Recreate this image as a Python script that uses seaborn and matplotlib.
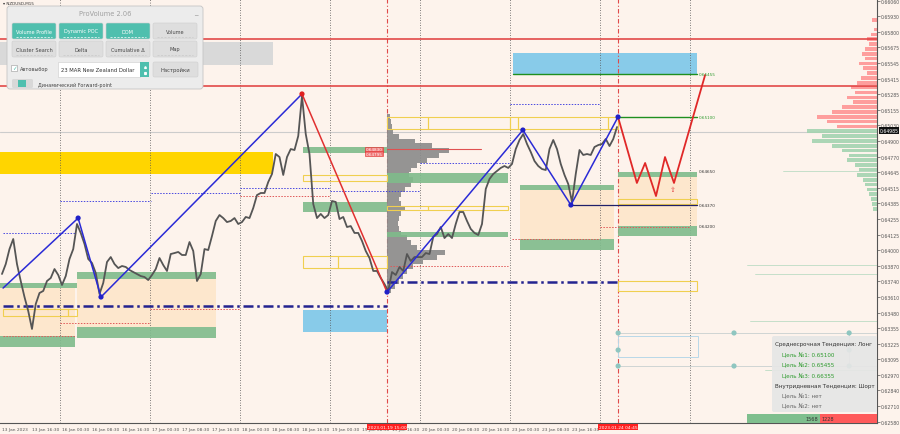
import numpy as np
import seaborn as sns
import matplotlib.pyplot as plt
import matplotlib.transforms as mtransforms
from matplotlib.patches import Rectangle, FancyBboxPatch

# x axis = trading hours counted from 13 Jan 08:30 (M15 chart, 8h per label)
closes = [0.63801, 0.63883, 0.64007, 0.64090, 0.63883, 0.63743, 0.63611, 0.63495, 0.63347, 0.63553,
          0.63644, 0.63661, 0.63743, 0.63768, 0.63842, 0.63793, 0.63710, 0.63784, 0.63925, 0.64007,
          0.64214, 0.64140, 0.64049, 0.63925, 0.63892, 0.63809, 0.63636, 0.63727, 0.63900, 0.63941,
          0.63883, 0.63850, 0.63867, 0.63859, 0.63834, 0.63817, 0.63801, 0.63784, 0.63776, 0.63751,
          0.63793, 0.63842, 0.63933, 0.63875, 0.63826, 0.63966, 0.63974, 0.63983, 0.63958, 0.63958,
          0.64065, 0.63991, 0.63743, 0.63801, 0.64007, 0.63999, 0.64115, 0.64239, 0.64288, 0.64263,
          0.64230, 0.64239, 0.64263, 0.64214, 0.64230, 0.64272, 0.64263, 0.64346, 0.64453, 0.64470,
          0.64470, 0.64561, 0.64627, 0.64792, 0.64767, 0.64619, 0.64767, 0.64833, 0.64825, 0.64941,
          0.65271, 0.64957, 0.64792, 0.64379, 0.64263, 0.64297, 0.64263, 0.64288, 0.64404, 0.64396,
          0.64255, 0.64272, 0.64189, 0.64197, 0.64140, 0.64140, 0.64074, 0.63991, 0.63933, 0.63826,
          0.63826, 0.63768, 0.63718, 0.63661, 0.63817, 0.63793, 0.63859, 0.63826, 0.63966, 0.63908,
          0.63941, 0.63941, 0.63941, 0.63974, 0.63966, 0.64107, 0.64131, 0.64189, 0.64098, 0.64131,
          0.64098, 0.64214, 0.64313, 0.64313, 0.64239, 0.64173, 0.64140, 0.64123, 0.64214, 0.64503,
          0.64586, 0.64627, 0.64652, 0.64677, 0.64693, 0.64677, 0.64710, 0.64833, 0.64908, 0.64957,
          0.64875, 0.64809, 0.64734, 0.64693, 0.64668, 0.64660, 0.64833, 0.64908, 0.64833, 0.64710,
          0.64619, 0.64544, 0.64396, 0.64627, 0.64825, 0.64784, 0.64792, 0.64784, 0.64850, 0.64866,
          0.64875, 0.64916, 0.64858, 0.64916, 0.65015]
hours = np.arange(len(closes))

xtick_hours = list(range(0, 160, 8))
xtick_labels = ["13 Jan 2023", "13 Jan 16:30", "16 Jan 00:30", "16 Jan 08:30", "16 Jan 16:30",
                "17 Jan 00:30", "17 Jan 08:30", "17 Jan 16:30", "18 Jan 00:30", "18 Jan 08:30",
                "18 Jan 16:30", "19 Jan 00:30", "19 Jan 08:30", "19 Jan 16:30", "20 Jan 00:30",
                "20 Jan 08:30", "20 Jan 16:30", "23 Jan 00:30", "23 Jan 08:30", "23 Jan 16:30"]
ytick_values = [0.66060, 0.65930, 0.65800, 0.65675, 0.65545, 0.65415, 0.65285, 0.65155, 0.65030,
                0.64900, 0.64770, 0.64645, 0.64515, 0.64385, 0.64255, 0.64125, 0.64000, 0.63870,
                0.63740, 0.63610, 0.63480, 0.63355, 0.63225, 0.63095, 0.62970, 0.62840, 0.62710,
                0.62580]
separator_hours = [15.5, 39.5, 63.5, 87.5, 111.5, 135.5, 159.5, 183.5]
marker_hours = [102.67, 164.27]
marker_labels = ["2023.01.19 15:00", "2023.01.24 04:45"]

# zigzag
zz1_h = [0.3, 20.3, 26.4, 80.0]
zz1_p = [0.63685, 0.64263, 0.63611, 0.65288]
zz_down_h = [80.0, 102.67]
zz_down_p = [0.65288, 0.63652]
zz2_h = [102.67, 138.9, 151.7, 164.27]
zz2_p = [0.63652, 0.64990, 0.64371, 0.65098]
proj_h = [164.27, 169.3, 171.5, 174.4, 176.8, 179.2, 187.5]
proj_p = [0.65098, 0.64553, 0.64718, 0.64445, 0.64767, 0.64553, 0.65445]
pivot_h = [20.3, 26.4, 102.67, 138.9, 151.7, 164.27]
pivot_p = [0.64263, 0.63611, 0.63652, 0.64990, 0.64371, 0.65098]

# zones: (start hour, end hour, top price, bottom price)
green_zones = [(-0.5, 19.5, 0.63289, 0.63198), (-0.5, 20.0, 0.63727, 0.63685),
               (20.0, 57.0, 0.63817, 0.63760), (20.0, 57.0, 0.63363, 0.63272),
               (80.3, 102.7, 0.64850, 0.64800), (80.3, 102.7, 0.64396, 0.64313),
               (102.7, 135.0, 0.64635, 0.64553), (102.7, 135.0, 0.64148, 0.64107),
               (138.0, 163.2, 0.64536, 0.64495), (138.0, 163.2, 0.64090, 0.63999),
               (164.3, 185.3, 0.64643, 0.64602), (164.3, 185.3, 0.64197, 0.64115)]
orange_zones = [(-0.5, 19.5, 0.63685, 0.63289), (20.0, 57.0, 0.63760, 0.63363),
                (138.0, 163.2, 0.64495, 0.64090), (164.3, 185.3, 0.64602, 0.64197)]
gold_zones = [(-0.5, 72.3, 0.64809, 0.64627)]
grey_zones = [(-0.5, 72.3, 0.65717, 0.65527)]
blue_zones = [(136.3, 185.3, 0.65626, 0.65453), (80.3, 102.7, 0.63504, 0.63322)]
yellow_boxes = [(0.3, 17.6, 0.63512, 0.63454), (17.6, 20.0, 0.63512, 0.63454),
                (80.3, 89.6, 0.63950, 0.63850), (89.6, 102.7, 0.63950, 0.63850),
                (80.3, 102.7, 0.64619, 0.64569),
                (102.7, 113.6, 0.65098, 0.64999), (113.6, 135.5, 0.65098, 0.64999),
                (135.5, 137.6, 0.65098, 0.64999), (137.6, 161.6, 0.65098, 0.64999),
                (161.6, 164.3, 0.65098, 0.64999),
                (102.7, 113.6, 0.64363, 0.64330), (113.6, 135.0, 0.64363, 0.64330),
                (164.3, 185.3, 0.64420, 0.64379), (164.3, 185.3, 0.63743, 0.63661)]
blue_dotted = [(0.3, 19.7, 0.64140), (15.5, 39.7, 0.64404), (39.7, 63.5, 0.64470),
               (63.5, 87.5, 0.64511), (87.5, 111.5, 0.64487), (111.5, 135.5, 0.64718),
               (135.5, 159.5, 0.65205)]
red_dotted = [(0.3, 19.7, 0.63289), (15.5, 39.5, 0.63396), (39.5, 63.5, 0.63512),
              (63.5, 87.5, 0.64445), (103.5, 135.0, 0.63867), (136.0, 159.5, 0.64090),
              (159.5, 183.5, 0.64189)]
navy_dashdot = [(0.3, 102.7, 0.63537), (102.7, 164.8, 0.63735)]
red_levels = [0.65742, 0.65354]
bid_line = 0.64976
green_levels = [(164.3, 185.3, 0.65100), (136.3, 185.3, 0.65455)]
level_labels = [(0.65455, "0.65455", "#2e9b2e"), (0.65100, "0.65100", "#2e9b2e"),
                (0.64650, "0.64650", "#333333"), (0.64370, "0.64370", "#333333"),
                (0.64200, "0.64200", "#333333")]

# volume profile of the 19-24 Jan session
profile_prices = [0.6510, 0.6506, 0.6502, 0.6498, 0.6494, 0.6490, 0.6486, 0.6482, 0.6478, 0.6474,
                  0.6470, 0.6466, 0.6462, 0.6458, 0.6454, 0.6450, 0.6446, 0.6442, 0.6438, 0.6434,
                  0.6430, 0.6426, 0.6422, 0.6418, 0.6414, 0.6410, 0.6406, 0.6402, 0.6398, 0.6394,
                  0.6390, 0.6386, 0.6382, 0.6378, 0.6374, 0.6370, 0.6366]
profile_volume = [3, 4, 5, 6, 12, 28, 45, 62, 52, 40, 30, 24, 22, 26, 24, 18, 14, 12, 14, 18,
                  14, 12, 11, 12, 14, 20, 24, 30, 58, 50, 36, 26, 20, 16, 12, 8, 4]

# order book (DOM) on the right edge
ask_prices = [0.6590, 0.6582, 0.6578, 0.6574, 0.6570, 0.6566, 0.6562, 0.6558, 0.6554, 0.6550, 0.6546,
              0.6542, 0.6538, 0.6534, 0.6530, 0.6526, 0.6522, 0.6518, 0.6514, 0.6510, 0.6506, 0.6502]
ask_size = [5, 3, 6, 10, 8, 12, 15, 12, 18, 14, 10, 16, 20, 26, 22, 30, 24, 35, 45, 60, 50, 40]
bid_prices = [0.6498, 0.6494, 0.6490, 0.6486, 0.6482, 0.6478, 0.6474, 0.6470, 0.6466, 0.6462,
              0.6458, 0.6454, 0.6450, 0.6446, 0.6442, 0.6438, 0.6434]
bid_size = [70, 55, 65, 45, 35, 28, 30, 22, 18, 20, 14, 12, 10, 8, 6, 5, 4]
dom_lines = [(208.3, 0.64651), (198.7, 0.63876), (200.8, 0.63802), (199.5, 0.63413), (203.5, 0.63008)]

# forward point markers
fp_hours = [164.3, 195.2, 225.9, 164.3, 225.9, 164.3, 195.2, 225.9]
fp_prices = [0.63314, 0.63314, 0.63314, 0.63173, 0.63173, 0.63041, 0.63041, 0.63041]

targets_text = [("Среднесрочная Тенденция: Лонг", "#333333"), ("Цель №1: 0.65100", "#2e9b2e"),
                ("Цель №2: 0.65455", "#2e9b2e"), ("Цель №3: 0.66355", "#2e9b2e"),
                ("Внутридневная Тенденция: Шорт", "#333333"), ("Цель №1: нет", "#666666"),
                ("Цель №2: нет", "#666666")]
buy_count, sell_count = 1568, 1228

BG = "#fdf3ec"
sns.set_style("white", {"axes.facecolor": BG, "figure.facecolor": BG})
plt.rcParams["font.family"] = ["DejaVu Sans"]

fig = plt.figure(figsize=(9, 4.35), dpi=100)
ax = fig.add_axes([0, 11 / 435, 877 / 900, 424 / 435])
ax.set_facecolor(BG)

HOURS_PER_PX = 1 / 3.75


def boxes(spans, **kw):
    for h0, h1, top, bot in spans:
        ax.add_patch(Rectangle((h0, bot), h1 - h0, top - bot, **kw))


boxes(orange_zones, facecolor="#fde5c6", edgecolor="none", alpha=0.8, zorder=1)
boxes(gold_zones, facecolor="#ffd500", edgecolor="none", zorder=1)
boxes(grey_zones, facecolor="#d9d9d9", edgecolor="none", zorder=1)
boxes(blue_zones, facecolor="#88cbe9", edgecolor="none", zorder=1)

# volume profile
ax.barh(profile_prices, np.array(profile_volume) * HOURS_PER_PX, left=102.7, height=0.0004,
        color="#8a8a8a", alpha=0.9, zorder=2, linewidth=0)
ax.plot([102.7, 127.7], [0.64833, 0.64833], color="#e05050", lw=0.8, zorder=4)

# DOM
right = 233.33
ask_w = np.array(ask_size) * HOURS_PER_PX
bid_w = np.array(bid_size) * HOURS_PER_PX
ax.barh(ask_prices, ask_w, left=right - ask_w, height=0.0003, color="#ff8f8f", alpha=0.85,
        zorder=2, linewidth=0)
ax.barh(bid_prices, bid_w, left=right - bid_w, height=0.0003, color="#a3d3b0", alpha=0.9,
        zorder=2, linewidth=0)
for h0, p in dom_lines:
    ax.plot([h0, right], [p, p], color="#bcdcc4", lw=0.6, zorder=2)

boxes(green_zones, facecolor="#7fbb8b", edgecolor="none", alpha=0.9, zorder=3)
boxes(yellow_boxes, facecolor="none", edgecolor="#f0cf50", lw=0.8, zorder=4)

for h0, h1, p in blue_dotted:
    ax.plot([h0, h1], [p, p], color="#4848e0", lw=0.7, ls=(0, (1.5, 1.5)), zorder=4)
for h0, h1, p in red_dotted:
    ax.plot([h0, h1], [p, p], color="#e05858", lw=0.7, ls=(0, (1.5, 1.5)), zorder=4)
for h0, h1, p in navy_dashdot:
    ax.plot([h0, h1], [p, p], color="#23238f", lw=1.8, ls=(0, (4, 1.5, 1, 1.5)), zorder=4)
ax.plot([151.7, 185.3], [0.64370, 0.64370], color="#20206a", lw=0.9, zorder=4)
for h0, h1, p in green_levels:
    ax.plot([h0, h1], [p, p], color="#1f8f1f", lw=1.0, zorder=4)
for p in red_levels:
    ax.axhline(p, color="#e03a3a", lw=1.1, zorder=4)
ax.axhline(bid_line, color="#cccccc", lw=0.8, zorder=1.5)

for h in separator_hours:
    ax.axvline(h, color="#555555", lw=0.6, ls=(0, (1, 2)), zorder=1.5)
for h in marker_hours:
    ax.axvline(h, color="#e04848", lw=0.8, ls=(0, (4, 2, 1, 2)), zorder=1.5)

# forward points
ax.plot([164.3, right], [0.63314, 0.63314], color="#c8d0d0", lw=0.6, zorder=2)
ax.plot([164.3, right], [0.63041, 0.63041], color="#c8d0d0", lw=0.6, zorder=2)
ax.plot([225.9, 225.9], [0.63314, 0.63041], color="#c8d0d0", lw=0.6, zorder=2)
ax.add_patch(Rectangle((164.3, 0.63115), 21.3, 0.00174, facecolor="none", edgecolor="#b8d8e8",
                       lw=0.7, zorder=2))
sns.scatterplot(x=fp_hours, y=fp_prices, ax=ax, color="#8fc6c0", s=14, edgecolor="none", zorder=3)

# price
sns.lineplot(x=hours, y=closes, ax=ax, color="#555555", lw=1.3, zorder=5, sort=False,
             estimator=None)

# zigzag
sns.lineplot(x=zz1_h, y=zz1_p, ax=ax, color="#2a2ad6", lw=1.1, zorder=6, sort=False, estimator=None)
sns.lineplot(x=zz_down_h, y=zz_down_p, ax=ax, color="#e03030", lw=1.1, zorder=6, sort=False,
             estimator=None)
sns.lineplot(x=zz2_h, y=zz2_p, ax=ax, color="#2a2ad6", lw=1.1, zorder=6, sort=False, estimator=None)
sns.lineplot(x=proj_h, y=proj_p, ax=ax, color="#e02828", lw=1.3, zorder=6, sort=False, estimator=None)
sns.scatterplot(x=pivot_h, y=pivot_p, ax=ax, color="#2020c8", s=14, edgecolor="none", zorder=7)
sns.scatterplot(x=[80.0], y=[0.65288], ax=ax, color="#e02020", s=14, edgecolor="none", zorder=7)
ax.text(178.9, 0.64503, "⇧", color="#e04040", fontsize=5, ha="center", va="center", zorder=7)

for p, lab, col in level_labels:
    ax.text(185.9, p, lab, color=col, fontsize=3, va="center", ha="left", zorder=7)

for p, lab in [(0.64833, "0.64830"), (0.64795, "0.64795")]:
    ax.text(101.5, p, lab, color="white", fontsize=3, ha="right", va="center", zorder=7,
            bbox=dict(facecolor="#ef7070", edgecolor="#e03030", lw=0.4, pad=0.4))

ax.set_xlim(-0.53, right)
ax.set_ylim(0.625703, 0.660724)

ax.set_xticks(xtick_hours)
ax.set_xticklabels(xtick_labels, ha="left", fontsize=3.2, color="#333333")
ax.yaxis.tick_right()
ax.set_yticks(ytick_values)
ax.set_yticklabels([f"{v:.5f}" for v in ytick_values], fontsize=3.3, color="#333333")
ax.tick_params(axis="both", length=2, width=0.5, pad=1, colors="#555555")
for s in ["top", "left"]:
    ax.spines[s].set_visible(False)
for s in ["right", "bottom"]:
    ax.spines[s].set_color("#555555")
    ax.spines[s].set_linewidth(0.8)
ax.set_xlabel("")
ax.set_ylabel("")

xb = mtransforms.blended_transform_factory(ax.transData, ax.transAxes)
for h, lab in zip(marker_hours, marker_labels):
    ax.text(h, -0.004, lab, transform=xb, ha="center", va="top", fontsize=3.2, color="white",
            zorder=10, clip_on=False,
            bbox=dict(facecolor="#ff2020", edgecolor="none", pad=0.6))
yb = mtransforms.blended_transform_factory(ax.transAxes, ax.transData)
ax.text(1.003, 0.64985, "0.64985", transform=yb, ha="left", va="center", fontsize=3.3,
        color="white", zorder=10, clip_on=False,
        bbox=dict(facecolor="#111111", edgecolor="none", pad=0.5))

# overlay in pixel units for the UI widgets
ui = fig.add_axes([0, 0, 1, 1])
ui.set_xlim(0, 900)
ui.set_ylim(435, 0)
ui.axis("off")
ui.patch.set_alpha(0)

ui.text(3, 4, "▾ NZDUSD,M15", fontsize=3, color="#333333", va="center")
ui.add_patch(FancyBboxPatch((7, 7), 196, 83, boxstyle="round,pad=0,rounding_size=3",
                            facecolor="#ececec", edgecolor="#c4c4c4", lw=0.6))
ui.text(105, 14.5, "ProVolume 2.06", fontsize=4.8, color="#a0a0a0", ha="center", va="center")
ui.text(196, 13, "_", fontsize=5, color="#888888", ha="center", va="center")
TEAL = "#4fbfae"
buttons = [(12, 24, "Volume Profile", True), (59, 24, "Dynamic POC", True), (106, 24, "DOM", True),
           (153, 24, "Volume", False), (12, 42, "Cluster Search", False), (59, 42, "Delta", False),
           (106, 42, "Cumulative Δ", False), (153, 42, "Map", False)]
for x0, y0, lab, on in buttons:
    ui.add_patch(FancyBboxPatch((x0, y0), 44, 16, boxstyle="round,pad=0,rounding_size=1.5",
                                facecolor=TEAL if on else "#dedede", edgecolor="#cfcfcf", lw=0.4))
    ui.text(x0 + 22, y0 + 8, lab, fontsize=3.6, ha="center", va="center",
            color="white" if on else "#444444")
    ui.plot([x0 + 4, x0 + 40], [y0 + 14, y0 + 14], color="#ffffff" if on else "#c8c8c8", lw=0.5,
            ls=(0, (3, 2)))
ui.add_patch(Rectangle((11, 66), 6, 6, facecolor="white", edgecolor="#999999", lw=0.4))
ui.text(14, 68.5, "✓", fontsize=4, color=TEAL, ha="center", va="center")
ui.text(20, 70, "Автовыбор", fontsize=3.6, color="#444444", va="center")
ui.add_patch(Rectangle((58, 63), 82, 15, facecolor="white", edgecolor="#cccccc", lw=0.4))
ui.add_patch(Rectangle((140, 63), 9, 15, facecolor=TEAL, edgecolor="none"))
ui.plot([144.5, 144.5], [67.5, 73.5], ls="none", marker="^", ms=1.3, color="white")
ui.plot([144.5], [73.5], ls="none", marker="v", ms=1.3, color="white")
ui.text(61, 70.5, "23 MAR New Zealand Dollar", fontsize=3.8, color="#333333", va="center")
ui.add_patch(FancyBboxPatch((153, 63), 45, 15, boxstyle="round,pad=0,rounding_size=1.5",
                            facecolor="#dedede", edgecolor="#cfcfcf", lw=0.4))
ui.text(175.5, 70.5, "Настройки", fontsize=3.8, color="#444444", ha="center", va="center")
ui.add_patch(FancyBboxPatch((12, 80), 21, 9, boxstyle="round,pad=0,rounding_size=1.5",
                            facecolor="#d8d8d8", edgecolor="none"))
ui.add_patch(Rectangle((18, 81), 8, 7, facecolor=TEAL, edgecolor="none"))
ui.text(38, 85, "Динамический Forward-point", fontsize=3.5, color="#444444", va="center")

# targets box
ui.add_patch(FancyBboxPatch((772, 337), 105, 76, boxstyle="round,pad=0,rounding_size=2",
                            facecolor="#e6e6e6", edgecolor="none", alpha=0.92))
for i, (txt, col) in enumerate(targets_text):
    indent = 775 if "Тенденция" in txt else 782
    ui.text(indent, 345 + i * 10.3, txt, fontsize=4.1, color=col, va="center")

# buy / sell counter
total = buy_count + sell_count
split = 747 + (877 - 747) * buy_count / total
ui.add_patch(Rectangle((747, 415), split - 747, 9, facecolor="#7fbf8e", edgecolor="none"))
ui.add_patch(Rectangle((split, 415), 877 - split, 9, facecolor="#ff5a5a", edgecolor="none"))
ui.text(split - 2, 419.5, str(buy_count), fontsize=3.6, color="#333333", ha="right", va="center")
ui.text(split + 2, 419.5, str(sell_count), fontsize=3.6, color="#333333", ha="left", va="center")

fig.savefig("out.png", dpi=100, facecolor=BG)
